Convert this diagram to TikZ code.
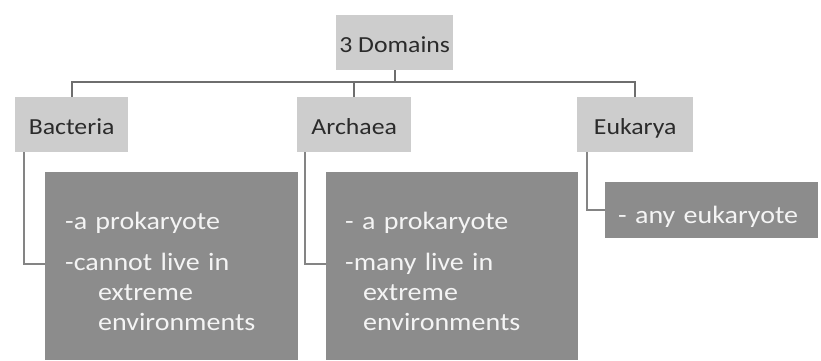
\documentclass[tikz,border=0pt]{standalone}
\usepackage{fontspec}
\setmainfont{Carlito}[FakeStretch=1.12]
\definecolor{lightbox}{HTML}{CDCDCD}
\definecolor{darkbox}{HTML}{8C8C8C}
\definecolor{linecol}{HTML}{6E6E6E}
\definecolor{labeltext}{HTML}{2B2B2B}
\definecolor{detailtext}{HTML}{F4F4F4}
\tikzset{
  headbox/.style={fill=lightbox, draw=none, anchor=north west, inner sep=0pt,
    text=labeltext, font=\fontsize{23}{27}\selectfont,
    text height=22pt, text depth=3pt, minimum height=55pt},
  detailbox/.style={fill=darkbox, draw=none, anchor=north west, inner sep=0pt,
    text=detailtext, font=\fontsize{25}{30}\selectfont, align=left},
  conn/.style={draw=linecol, line width=2pt},
  sideconn/.style={draw=linecol!85, line width=1.5pt},
}
\begin{document}
\begin{tikzpicture}[x=1pt,y=-1pt]
\useasboundingbox (0,0) rectangle (821,360);
\fill[white] (0,0) rectangle (821,360);

\node[headbox, minimum width=117pt] (top) at (336,15) {3 Domains};
\node[headbox, minimum width=113pt] (bac) at (15,97) {Bacteria};
\node[headbox, minimum width=114pt] (arch) at (297,97) {Archaea};
\node[headbox, minimum width=116pt] (euk) at (577,97) {Eukarya};

\node[detailbox, minimum width=253pt, minimum height=188pt, text width=213pt] (bacd) at (45,172)
  {\rule{0pt}{27pt}-a prokaryote\par\vspace{11pt}-cannot live in\\\hspace*{33pt}extreme\\\hspace*{33pt}environments};
\node[detailbox, minimum width=252pt, minimum height=188pt, text width=214pt] (archd) at (326,172)
  {\rule{0pt}{27pt}- a prokaryote\par\vspace{11pt}-many live in\\\hspace*{18pt}extreme\\\hspace*{18pt}environments};
\node[detailbox, minimum width=213pt, minimum height=56pt, text width=187pt,
  text height=31pt, text depth=5pt] (eukd) at (605,182) {- any eukaryote};

\coordinate (bus) at (0,82);
\draw[conn] (top.south) -- (top.south |- bus);
\draw[conn] (bac.north) |- (euk.north |- bus) -- (euk.north);
\draw[conn] (arch.north) -- (arch.north |- bus);

\draw[sideconn] ([xshift=9pt]bac.south west) |- ([yshift=2pt]bacd.west);
\draw[sideconn] ([xshift=8pt]arch.south west) |- ([yshift=2pt]archd.west);
\draw[sideconn] ([xshift=10pt]euk.south west) |- (eukd.west);
\end{tikzpicture}
\end{document}
